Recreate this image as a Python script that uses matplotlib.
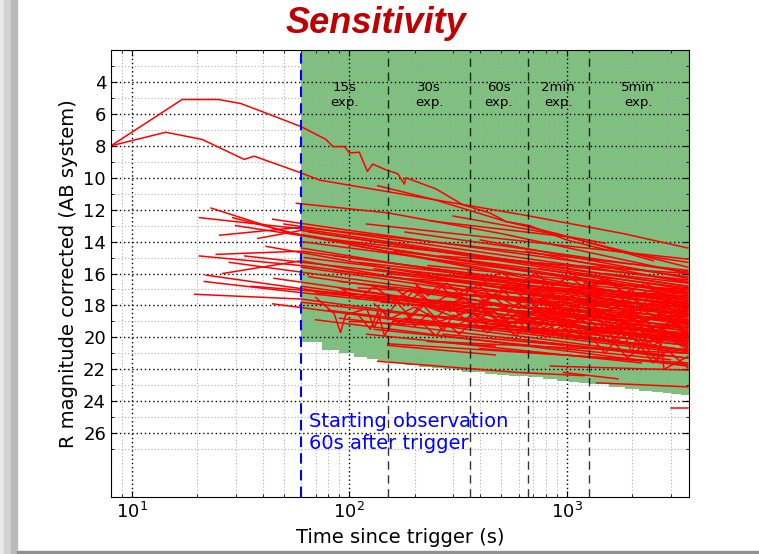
import matplotlib
matplotlib.use("Agg")
from matplotlib import pyplot as plt
from matplotlib.patches import Rectangle

# two bright, early light curves (time in s, R magnitude)
bright_a_t = [8, 17, 25, 31.6, 37, 60, 78, 84, 95, 100, 111, 121, 128, 147, 167, 179, 182, 250, 333, 442, 527, 675, 1000, 1500, 3600]
bright_a_m = [8.0, 5.1, 5.1, 5.35, 5.7, 6.8, 7.6, 8.05, 8.05, 8.45, 8.4, 9.6, 9.15, 9.5, 9.75, 10.4, 10.0, 10.7, 11.7, 12.2, 12.75, 13.0, 13.9, 14.5, 15.3]
bright_b_t = [8, 14.3, 21, 32.8, 36.5, 60, 73, 170, 357, 675, 1820, 3600]
bright_b_m = [8.0, 7.15, 7.6, 8.85, 8.65, 9.7, 10.15, 11.0, 11.75, 12.4, 13.5, 14.4]

# light curves that start before 60 s
early_curves = [
    [(23.1, 11.9), (51, 13.4), (3600, 17.5)],
    [(20.4, 12.5), (60, 13.2), (3600, 16.8)],
    [(29, 12.5), (60, 13.6), (3600, 18.2)],
    [(44.4, 12.6), (100, 13.3), (3600, 16.2)],
    [(25.3, 13.6), (60, 13.1), (3600, 15.8)],
    [(37.9, 13.8), (60, 13.3), (3600, 17.0)],
    [(41.4, 14.3), (3600, 19.0)],
    [(20.4, 14.9), (60, 15.5), (3600, 18.6)],
    [(24.4, 14.8), (60, 14.6), (3600, 17.8)],
    [(26.1, 16.0), (60, 15.2), (3600, 19.5)],
    [(21.9, 16.1), (3600, 20.4)],
    [(21.5, 16.5), (60, 17.2), (3600, 19.8)],
    [(35.3, 16.8), (3600, 18.9)],
    [(19.4, 17.3), (60, 17.6), (3600, 20.8)],
    [(44.4, 17.9), (3600, 21.3)],
    [(30, 13.0), (3600, 17.3)],
    [(33, 14.9), (3600, 18.0)],
    [(28, 15.3), (3600, 19.2)],
    [(45, 16.3), (3600, 20.0)],
    [(50, 12.9), (3600, 16.5)],
    [(57, 11.6), (150, 12.2), (500, 13.5), (3600, 16.0)],
]

# light curves that start after 60 s
late_curves = [
    [(135, 10.5), (250, 11.4), (527, 12.75), (900, 13.5), (2500, 15.2)],
    [(235, 12.7), (1000, 13.7), (3600, 15.6)],
    [(60, 14.0), (3600, 17.2)],
    [(60, 14.4), (3600, 18.4)],
    [(62, 15.0), (3600, 18.0)],
    [(60, 15.6), (3600, 19.1)],
    [(65, 16.2), (3600, 19.6)],
    [(60, 16.8), (3600, 20.2)],
    [(70, 17.2), (3600, 19.3)],
    [(60, 17.8), (3600, 20.5)],
    [(80, 18.3), (3600, 21.0)],
    [(90, 18.8), (2800, 21.2)],
    [(100, 19.0), (3600, 20.0)],
    [(75, 13.8), (3600, 16.4)],
    [(110, 15.3), (3600, 17.6)],
    [(150, 16.0), (3600, 18.2)],
    [(120, 17.5), (3600, 18.7)],
    [(200, 17.0), (3600, 19.9)],
    [(250, 18.2), (3600, 20.3)],
    [(300, 16.5), (3600, 18.5)],
    [(400, 17.8), (3600, 19.4)],
    [(180, 18.8), (3600, 20.8)],
    [(130, 19.5), (3000, 21.4)],
    [(160, 14.6), (3600, 16.9)],
    [(230, 15.5), (3600, 17.1)],
    [(500, 16.8), (3600, 17.9)],
    [(600, 18.4), (3600, 19.6)],
    [(90, 16.5), (3600, 18.8)],
    [(85, 15.8), (2500, 18.3)],
    [(350, 19.2), (3600, 20.9)],
    [(700, 19.0), (3600, 20.2)],
    [(260, 14.9), (3600, 16.0)],
    [(110, 16.9), (3600, 18.1)],
    [(140, 17.8), (3600, 19.0)],
    [(95, 17.0), (3600, 19.9)],
    [(170, 16.3), (3600, 17.4)],
    [(210, 18.6), (3600, 19.8)],
    [(280, 17.3), (3600, 18.3)],
    [(330, 18.9), (3600, 19.7)],
    [(450, 16.2), (3600, 17.3)],
    [(520, 17.5), (3600, 18.6)],
    [(800, 17.0), (3600, 17.6)],
    [(900, 18.2), (3600, 19.1)],
    [(1200, 16.6), (3600, 17.0)],
    [(70, 18.9), (3600, 21.8)],
    [(120, 19.8), (2200, 21.6)],
    [(500, 20.0), (3600, 21.3)],
    [(1000, 19.6), (3600, 20.5)],
    [(200, 15.9), (3600, 17.5)],
    [(65, 13.4), (3600, 16.8)],
    [(100, 14.2), (3600, 17.9)],
    [(130, 15.7), (3600, 18.6)],
    [(120, 12.9), (3600, 15.1)],
    [(300, 12.4), (1500, 14.1)],
    [(180, 13.4), (3600, 15.9)],
    [(400, 13.9), (3600, 16.3)],
    [(650, 14.6), (3600, 16.6)],
    [(85, 14.9), (3600, 17.7)],
    [(250, 16.1), (3600, 17.8)],
    [(350, 17.0), (3600, 18.1)],
    [(160, 19.0), (3600, 19.9)],
    [(600, 19.5), (3600, 20.8)],
    [(270, 19.8), (2000, 20.9)],
    [(1500, 16.0), (3600, 16.6)],
    [(750, 15.7), (3600, 17.2)],
    [(150, 20.4), (3600, 21.6)],
    [(235, 20.25), (3600, 21.0)],
    [(228, 20.25), (468, 20.55)],
    [(150, 20.5), (468, 21.1)],
    [(135, 21.5), (600, 22.2), (1200, 22.4)],
    [(398, 20.7), (3600, 21.7)],
    [(840, 21.8), (3600, 22.05)],
    [(965, 22.2), (1720, 22.6)],
    [(1370, 22.85), (3600, 23.1)],
    [(3000, 24.4), (3600, 24.4)],
]

# noisy light curves
noisy_curves = [
    [(70, 17.5), (85, 18.5), (91, 19.7), (96, 18.6), (120, 18.2), (130, 19.4), (142, 18.3), (150, 18.9), (200, 18.1), (260, 19.0), (350, 18.4), (500, 19.2), (800, 18.8), (1500, 19.6), (3600, 20.1)],
    [(110, 18.6), (125, 19.5), (135, 18.4), (145, 19.9), (160, 18.9), (175, 19.2), (220, 18.0), (300, 18.7), (450, 17.9), (700, 18.8), (1100, 18.3), (2000, 19.2), (3600, 19.4)],
    [(150, 17.3), (180, 18.0), (210, 17.2), (260, 18.3), (320, 17.6), (420, 18.5), (600, 17.9), (900, 18.9), (1300, 18.2), (2200, 19.5), (3600, 19.0)],
    [(300, 19.4), (380, 18.6), (450, 19.5), (560, 18.7), (700, 19.8), (900, 18.9), (1200, 20.0), (1600, 19.2), (2200, 20.4), (3000, 19.7), (3600, 20.6)],
    [(620, 16.4), (700, 17.3), (800, 16.6), (900, 17.6), (1100, 17.0), (1500, 18.1), (2000, 17.6), (3000, 18.8), (3600, 18.2)],
    [(1000, 15.8), (1300, 16.8), (1500, 16.2), (1900, 17.5), (2500, 17.0), (3100, 18.4), (3600, 17.8)],
    [(1800, 19.5), (2000, 21.0), (2100, 19.8), (2600, 21.5), (2700, 20.2), (2800, 22.0), (3600, 21.2)],
    [(180, 18.4), (200, 19.3), (230, 18.5), (270, 19.6), (300, 18.6), (360, 19.1), (420, 18.2), (520, 19.3), (650, 18.6), (800, 19.5), (1000, 18.9), (1400, 19.8), (1900, 19.1), (2600, 20.2), (3600, 19.9)],
    [(250, 17.7), (290, 18.4), (330, 17.5), (390, 18.2), (460, 17.4), (540, 18.3), (650, 17.6), (800, 18.5), (1000, 17.8), (1300, 18.7), (1700, 18.1), (2300, 19.0), (3000, 18.4), (3600, 19.2)],
    [(400, 18.9), (450, 18.2), (520, 19.0), (600, 18.4), (720, 19.3), (850, 18.5), (1000, 19.4), (1200, 18.7), (1450, 19.6), (1750, 18.9), (2100, 19.9), (2600, 19.3), (3600, 20.3)],
    [(700, 17.9), (780, 18.7), (850, 18.0), (950, 19.0), (1050, 18.3), (1250, 19.2), (1400, 18.5), (1650, 19.4), (2000, 18.8), (2400, 19.8), (3000, 19.0), (3600, 19.9)],
    [(90, 16.9), (110, 17.6), (130, 16.8), (160, 17.7), (190, 17.0), (240, 17.9), (300, 17.2), (380, 18.0), (470, 17.3), (600, 18.2), (760, 17.6), (950, 18.4), (1200, 17.8), (1600, 18.7), (2100, 18.1), (2800, 19.0), (3600, 18.6)],
    [(1100, 17.3), (1250, 18.0), (1400, 17.4), (1600, 18.3), (1800, 17.7), (2100, 18.6), (2400, 17.9), (2800, 18.9), (3200, 18.3), (3600, 19.3)],
    [(130, 17.9), (150, 18.6), (165, 17.8), (190, 18.7), (215, 17.9), (250, 18.8), (290, 18.0), (340, 18.9), (400, 18.1), (480, 19.0), (560, 18.3), (680, 19.1), (820, 18.4), (1000, 19.2), (1250, 18.6), (1600, 19.4), (2000, 18.8), (2600, 19.6), (3600, 19.0)],
    [(200, 16.6), (230, 17.4), (260, 16.7), (300, 17.5), (350, 16.9), (420, 17.7), (500, 17.0), (600, 17.9), (720, 17.2), (880, 18.0), (1050, 17.4), (1300, 18.2), (1600, 17.6), (2000, 18.4), (2500, 17.9), (3600, 18.5)],
    [(500, 18.6), (560, 19.4), (620, 18.8), (700, 19.6), (800, 18.9), (920, 19.9), (1050, 19.1), (1250, 20.0), (1450, 19.3), (1700, 20.2), (2000, 19.5), (2500, 20.5), (3100, 19.9), (3600, 20.7)],
    [(2000, 17.0), (2200, 18.2), (2400, 17.3), (2700, 18.6), (3000, 17.6), (3300, 18.8), (3600, 18.0)],
    [(1300, 20.0), (1500, 21.0), (1650, 20.3), (1900, 21.3), (2200, 20.6), (2500, 21.6), (2900, 20.8), (3600, 21.9)],
    [(160, 16.9), (185, 17.5), (205, 16.8), (240, 17.3), (280, 16.6), (330, 17.4), (390, 16.7), (460, 17.5), (550, 16.9), (660, 17.7), (790, 17.0), (950, 17.8), (1150, 17.2), (1400, 18.0), (1700, 17.4), (2100, 18.2), (2700, 17.6), (3600, 18.3)],
    [(220, 19.2), (250, 19.9), (280, 19.1), (320, 19.8), (370, 19.0), (430, 19.7), (500, 19.1), (580, 19.9), (680, 19.2), (800, 20.0), (940, 19.3), (1100, 20.1), (1300, 19.4), (1550, 20.3), (1850, 19.6), (2250, 20.5), (2800, 19.8), (3600, 20.8)],
    [(350, 15.8), (420, 16.5), (500, 15.9), (600, 16.7), (720, 16.0), (860, 16.8), (1020, 16.2), (1250, 17.0), (1500, 16.4), (1850, 17.2), (2300, 16.6), (2900, 17.4), (3600, 16.9)],
    [(800, 18.1), (900, 18.9), (1000, 18.2), (1150, 19.1), (1300, 18.4), (1500, 19.2), (1700, 18.6), (1950, 19.4), (2250, 18.8), (2600, 19.7), (3000, 19.0), (3600, 19.8)],
]

# limiting magnitude of the stacked images
limit_t = [60, 75, 90, 105, 120, 135, 150, 180, 210, 240, 270, 300, 330, 360, 420, 480, 540, 600, 660,
           780, 900, 1020, 1140, 1260, 1560, 1860, 2160, 2460, 2760, 3060, 3360, 3660]
limit_m = [20.3, 20.8, 21.0, 21.25, 21.35, 21.5, 21.6, 21.72, 21.83, 21.92, 22.0, 22.07, 22.14, 22.2, 22.27,
           22.33, 22.4, 22.45, 22.5, 22.62, 22.72, 22.81, 22.88, 22.95, 23.1, 23.25, 23.35, 23.43, 23.5,
           23.56, 23.6, 23.65]

exposure_edges = [60, 150, 360, 660, 1260, 3600]
exposure_labels = ["15s\nexp.", "30s\nexp.", "60s\nexp.", "2min\nexp.", "5min\nexp."]


def main():
    fig = plt.figure(figsize=(7.59, 5.54), dpi=100)

    # slide frame
    fig.patches.append(Rectangle((0, 0), 4 / 759, 1, transform=fig.transFigure, color="#e8e8e8", zorder=0))
    fig.patches.append(Rectangle((4 / 759, 0), 7 / 759, 1, transform=fig.transFigure, color="#d2d2d2", zorder=0))
    fig.patches.append(Rectangle((11 / 759, 0), 6 / 759, 1, transform=fig.transFigure, color="#b9b9b9", zorder=0))
    fig.patches.append(Rectangle((17 / 759, 0), 1, 3 / 554, transform=fig.transFigure, color="#909090", zorder=0))

    fig.text(0.495, 0.94, "Sensitivity", ha="center", va="baseline", fontsize=26,
             family="Liberation Sans", weight="bold", style="italic", color="#c00000")

    ax = fig.add_axes([0.1462, 0.1029, 0.7616, 0.8068])
    ax.set_xscale("log")

    ax.fill_between(limit_t, limit_m, 0, step="post", color="green", alpha=0.5, lw=0, zorder=1)

    ax.plot(bright_a_t, bright_a_m, color="red", lw=1.1, zorder=2)
    ax.plot(bright_b_t, bright_b_m, color="red", lw=1.1, zorder=2)
    for curve in early_curves + late_curves + noisy_curves:
        ts = [p[0] for p in curve]
        ms = [p[1] for p in curve]
        ax.plot(ts, ms, color="red", lw=1.1, zorder=2)

    for t in exposure_edges[1:-1]:
        ax.axvline(t, color="black", ls=(0, (6, 4)), lw=1.0, alpha=0.8, zorder=3)
    for i, lab in enumerate(exposure_labels):
        mid = (exposure_edges[i] * exposure_edges[i + 1]) ** 0.5
        ax.text(mid, 3.95, lab, ha="center", va="top", fontsize=9.5, linespacing=1.2, zorder=4)

    ax.axvline(60, color="blue", ls=(0, (5, 3)), lw=1.5, zorder=3)
    ax.text(65, 24.7, "Starting observation\n60s after trigger", color="blue", fontsize=14,
            ha="left", va="top", linespacing=1.15, zorder=4)

    ax.set_xlim(8, 3650)
    ax.set_ylim(30, 2)
    ax.set_yticks(range(4, 28, 2))
    ax.set_yticks(range(3, 28, 2), minor=True)

    ax.grid(True, which="major", color="black", ls=(0, (1, 2)), lw=1.0)
    ax.grid(True, which="minor", color="#b0b0b0", ls=(0, (1, 2)), lw=0.8)
    ax.tick_params(which="both", direction="in", top=True, right=True, labelsize=13)
    ax.tick_params(which="major", length=4)
    ax.tick_params(which="minor", length=2)

    ax.set_xlabel("Time since trigger (s)", fontsize=14)
    ax.set_ylabel("R magnitude corrected (AB system)", fontsize=14)

    fig.savefig("out.png", dpi=100)


if __name__ == '__main__':
    main()
